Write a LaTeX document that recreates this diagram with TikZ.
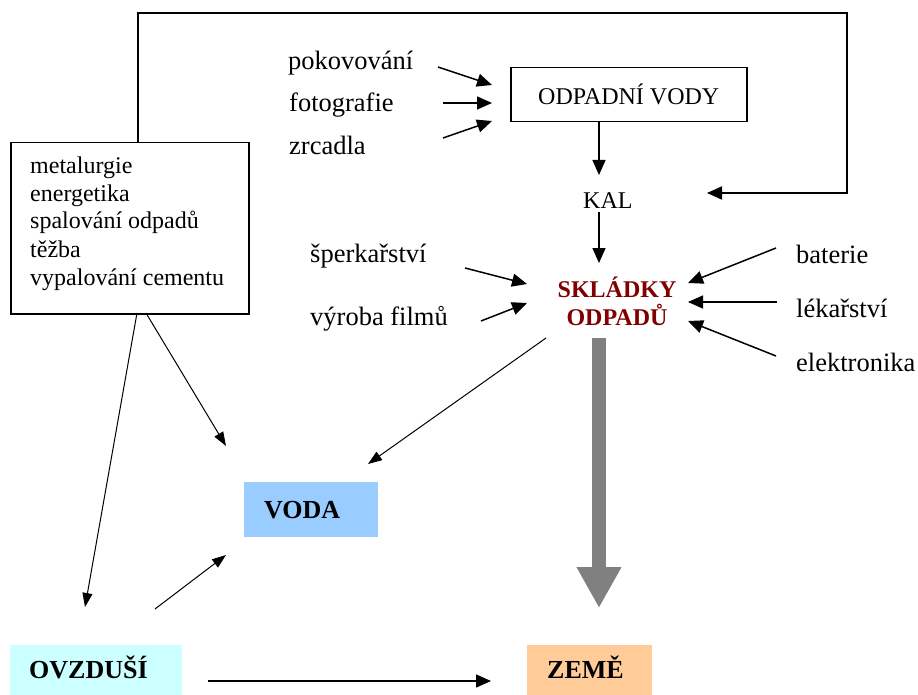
\documentclass[tikz,border=0pt]{standalone}
\usepackage{fontspec}
\setmainfont{Liberation Serif}
\usetikzlibrary{arrows.meta}
\definecolor{dred}{HTML}{800000}
\definecolor{vodac}{HTML}{99CCFF}
\definecolor{ovzc}{HTML}{CCFFFF}
\definecolor{zemc}{HTML}{FFCC99}
\definecolor{grayarr}{HTML}{808080}
\begin{document}
\begin{tikzpicture}[x=1pt,y=-1pt,
  txt/.style={anchor=base west, inner sep=0pt, font=\fontsize{24}{28}\selectfont},
  bigtxt/.style={anchor=base west, inner sep=0pt, font=\fontsize{26.5}{30}\selectfont},
  arr/.style={line width=1.5pt, -{Triangle[length=15pt,width=13pt]}},
  thinarr/.style={line width=1pt, -{Triangle[length=14pt,width=10pt]}},
  lab/.style={anchor=north west, inner ysep=0pt, minimum height=#1, text height=17pt, text depth=0pt, align=left, font=\fontsize{26}{30}\selectfont\bfseries},
  box/.style={draw, line width=1.5pt, anchor=north west, inner sep=0pt}]
\useasboundingbox (0,0) rectangle (918,695);

% source box
\node[box, minimum width=238pt, minimum height=171pt] (src) at (10,142) {};
\node[txt] (l1) at (30,174) {metalurgie};
\node[txt] (l2) at (30,202) {energetika};
\node[txt] (l3) at (30,229) {spalování odpadů};
\node[txt] (l4) at (30,257) {těžba};
\node[txt] (l5) at (30,285) {vypalování cementu};

% top row
\node[bigtxt] (pok) at (288,70) {pokovování};
\node[bigtxt] (fot) at (289,112) {fotografie};
\node[bigtxt] (zrc) at (289,155) {zrcadla};
\node[box, minimum width=236pt, minimum height=54pt, font=\fontsize{24}{28}\selectfont] (ov) at (510,67) {ODPADNÍ VODY};
\node[txt] (kal) at (583,208) {KAL};

% middle
\node[bigtxt] (spe) at (310,262) {šperkařství};
\node[bigtxt] (vyr) at (310,325) {výroba filmů};
\node[align=center, inner sep=0pt, text=dred, font=\fontsize{24}{28}\selectfont\bfseries] (skl) at (617,301) {SKLÁDKY\\ODPADŮ};
\node[bigtxt] (bat) at (796,263) {baterie};
\node[bigtxt] (lek) at (796,317) {lékařství};
\node[bigtxt] (ele) at (796,371) {elektronika};

% coloured boxes
\node[lab=55pt, fill=vodac, inner xsep=20pt, text width=94pt] (voda) at (244,482) {VODA};
\node[lab=50pt, fill=ovzc, inner xsep=19pt, text width=134pt] (ovz) at (10,645) {OVZDUŠÍ};
\node[lab=50pt, fill=zemc, inner xsep=20pt, text width=85pt] (zeme) at (527,645) {ZEMĚ};

% connector coordinates
\coordinate (srcT) at (138,142);
\coordinate (c1) at (138,13);
\coordinate (c2) at (847,13);
\coordinate (c3) at (847,193);
\coordinate (kalR) at (707,193);
\coordinate (pokE) at (438,67);   \coordinate (ovL1) at (492,85);
\coordinate (fotE) at (443,103);  \coordinate (ovL2) at (492,103);
\coordinate (zrcE) at (443,138);  \coordinate (ovL3) at (492,121);
\coordinate (ovB) at (599,121);   \coordinate (kalT) at (599,175);
\coordinate (kalB) at (599,212);  \coordinate (sklT) at (599,263);
\coordinate (speE) at (465,268);  \coordinate (sklL1) at (527,284);
\coordinate (vyrE) at (481,321);  \coordinate (sklL2) at (527,303);
\coordinate (batW) at (776,248);  \coordinate (sklR1) at (688,283);
\coordinate (lekW) at (777,302);  \coordinate (sklR2) at (688,302);
\coordinate (eleW) at (776,356);  \coordinate (sklR3) at (688,321);
\coordinate (sklBL) at (546,338); \coordinate (vodaTR) at (368,464);
\coordinate (srcB1) at (137,313); \coordinate (ovzT) at (85,607);
\coordinate (srcB2) at (146,313); \coordinate (vodaTL) at (226,446);
\coordinate (ovzTR) at (155,609); \coordinate (vodaBL) at (226,555);
\coordinate (ovzR) at (208,681);  \coordinate (zemeL) at (491,681);
\coordinate (sklB) at (599,338);  \coordinate (zemeT) at (599,608);

% connectors
\draw[arr, line width=1.8pt] (srcT) -- (c1) -- (c2) -- (c3) -- (kalR);
\draw[arr] (pokE) -- (ovL1);
\draw[arr] (fotE) -- (ovL2);
\draw[arr] (zrcE) -- (ovL3);
\draw[arr] (ovB) -- (kalT);
\draw[arr] (kalB) -- (sklT);
\draw[arr] (speE) -- (sklL1);
\draw[arr] (vyrE) -- (sklL2);
\draw[arr] (batW) -- (sklR1);
\draw[arr] (lekW) -- (sklR2);
\draw[arr] (eleW) -- (sklR3);
\draw[thinarr] (sklBL) -- (vodaTR);
\draw[thinarr] (srcB1) -- (ovzT);
\draw[thinarr] (srcB2) -- (vodaTL);
\draw[thinarr] (ovzTR) -- (vodaBL);
\draw[arr] (ovzR) -- (zemeL);
\draw[grayarr, line width=14pt, -{Triangle[length=41pt,width=42pt]}] (sklB) -- (zemeT);
\end{tikzpicture}
\end{document}
